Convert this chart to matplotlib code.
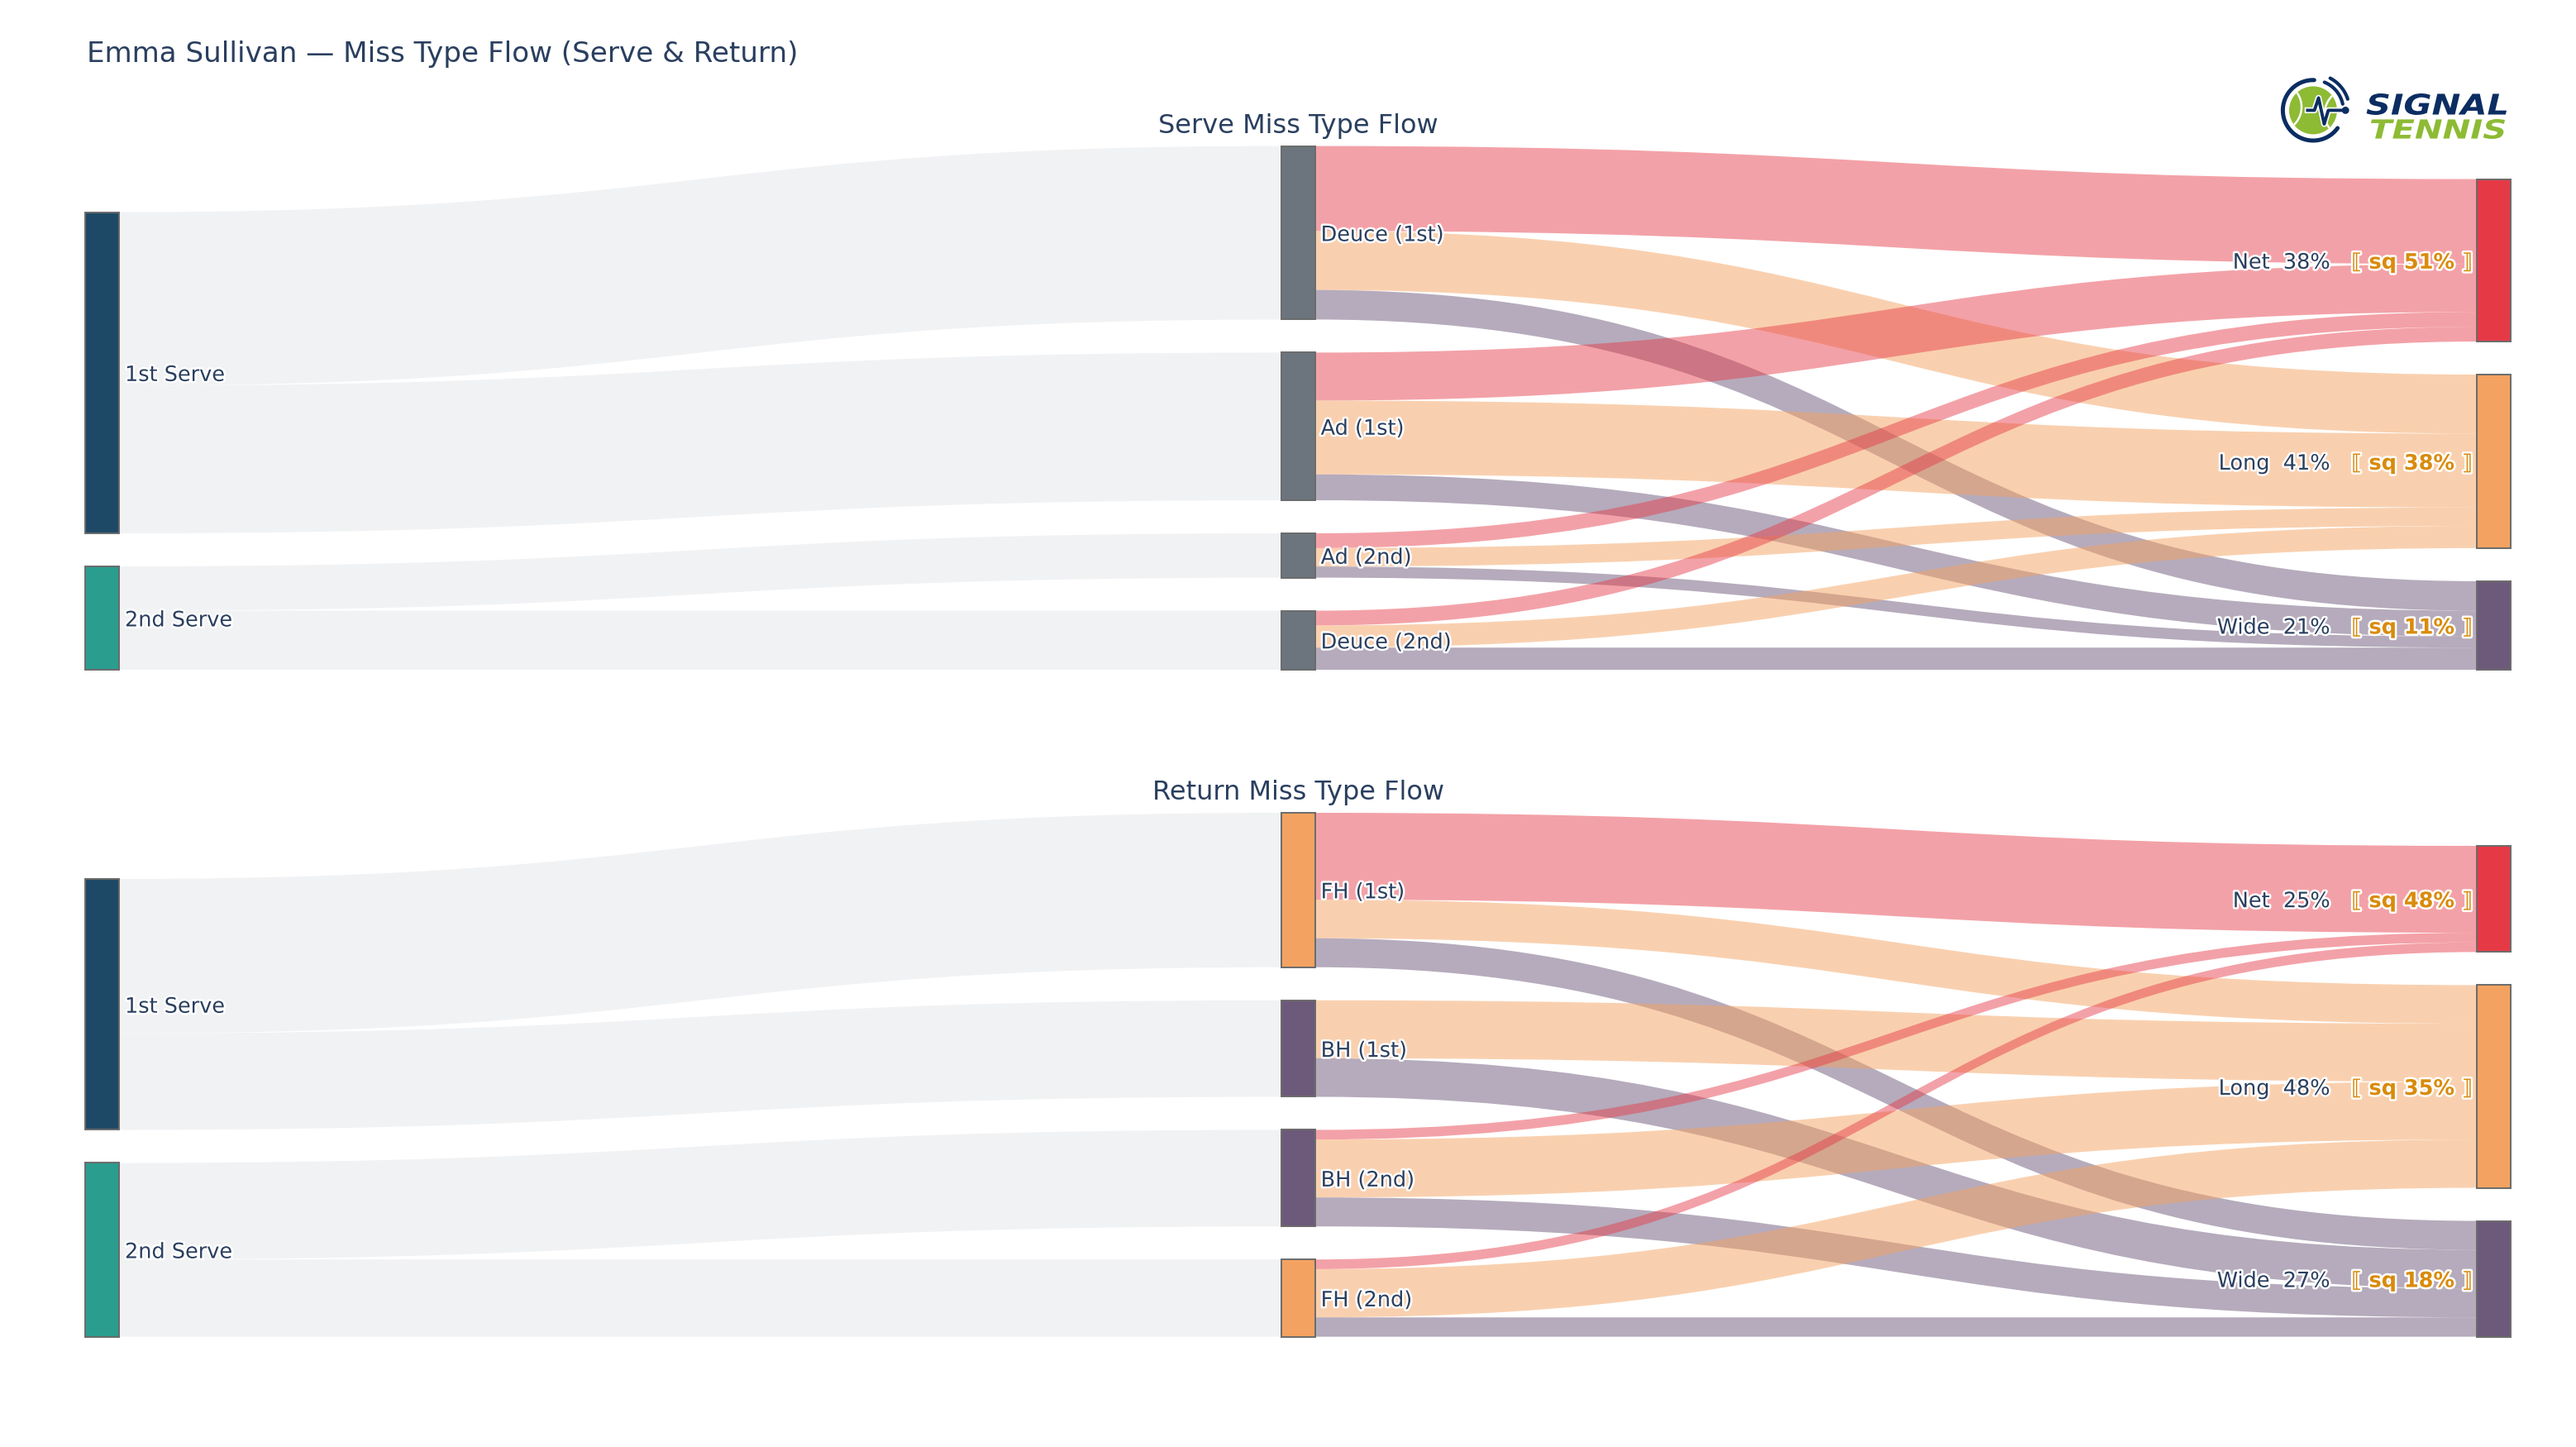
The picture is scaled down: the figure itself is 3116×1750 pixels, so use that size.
import numpy as np
import matplotlib
matplotlib.use("Agg")
from matplotlib import pyplot as plt
import matplotlib.patheffects as pe
from matplotlib.patches import PathPatch, Rectangle, Circle
from matplotlib.path import Path
from matplotlib.textpath import TextPath
from matplotlib.font_manager import FontProperties

# ---- data ----
player = "Emma Sullivan"
miss_types = ["Net", "Long", "Wide"]

serve_sources = ["1st Serve", "2nd Serve"]
serve_sides = ["Deuce (1st)", "Ad (1st)", "Ad (2nd)", "Deuce (2nd)"]
serve_parent = [0, 0, 1, 1]
serve_net = [23, 13, 4, 4]
serve_long = [16, 20, 5, 6]
serve_wide = [8, 7, 3, 6]
serve_squad_pct = [51, 38, 11]

return_sources = ["1st Serve", "2nd Serve"]
return_wings = ["FH (1st)", "BH (1st)", "BH (2nd)", "FH (2nd)"]
return_parent = [0, 0, 1, 1]
return_net = [9, 0, 1, 1]
return_long = [4, 6, 6, 5]
return_wide = [3, 4, 3, 2]
return_squad_pct = [48, 35, 18]

# ---- style ----
TXT = "#2a3f5f"
SQ_ORANGE = "#d98b0b"
SRC_COLORS = ["#1e4966", "#2a9d8f"]
SERVE_MID = "#6c757d"
FH_COL, BH_COL = "#f4a261", "#6d597a"
TYPE_COLORS = ["#e63946", "#f4a261", "#6d597a"]
TYPE_LINK = [(230/255, 57/255, 70/255, 0.47),
             (244/255, 162/255, 97/255, 0.5),
             (109/255, 89/255, 122/255, 0.5)]
GREY_LINK = "#f1f2f4"

W, H = 1558, 875
X_COLS = [51.7, 775.0, 1498.0]
NODE_W = 20.3
PAD = 20.0
halo = [pe.withStroke(linewidth=1.8, foreground="white")]


def ribbon(ax, x0, ya, x1, yb, h, color):
    xm = (x0 + x1) / 2
    verts = [(x0, ya), (xm, ya), (xm, yb), (x1, yb),
             (x1, yb + h), (xm, yb + h), (xm, ya + h), (x0, ya + h), (x0, ya)]
    codes = [Path.MOVETO] + [Path.CURVE4] * 3 + [Path.LINETO] + \
            [Path.CURVE4] * 3 + [Path.CLOSEPOLY]
    ax.add_patch(PathPatch(Path(verts, codes), facecolor=color,
                           edgecolor="none", zorder=1))


def node(ax, x, top, h, color):
    ax.add_patch(Rectangle((x, top), NODE_W, h, facecolor=color,
                           edgecolor="#6b6b6b", lw=0.7, zorder=3))


def sankey(ax, y0, y1, src_names, mid_names, parent, flows, mid_colors,
           squad, title, renderer):
    mid_vals = [sum(f[i] for f in flows) for i in range(len(mid_names))]
    src_vals = [sum(v for v, p in zip(mid_vals, parent) if p == s)
                for s in range(len(src_names))]
    typ_vals = [sum(f) for f in flows]
    total = sum(mid_vals)
    n_max = max(len(src_vals), len(mid_vals), len(typ_vals))
    k = (y1 - y0 - PAD * (n_max - 1)) / total

    def stack(vals):
        hs = [v * k for v in vals]
        t = y1 - sum(hs) - PAD * (len(hs) - 1)
        tops = []
        for hh in hs:
            tops.append(t)
            t += hh + PAD
        return tops, hs

    s_top, s_h = stack(src_vals)
    m_top, m_h = stack(mid_vals)
    t_top, t_h = stack(typ_vals)

    # links source -> middle
    s_off = list(s_top)
    for i, p in enumerate(parent):
        ribbon(ax, X_COLS[0] + NODE_W, s_off[p], X_COLS[1], m_top[i], m_h[i], GREY_LINK)
        s_off[p] += m_h[i]
    # links middle -> miss type
    t_off = list(t_top)
    for i in range(len(mid_names)):
        off = m_top[i]
        for t in range(len(flows)):
            h = flows[t][i] * k
            if h > 0:
                ribbon(ax, X_COLS[1] + NODE_W, off, X_COLS[2], t_off[t], h, TYPE_LINK[t])
            off += h
            t_off[t] += h

    for i, name in enumerate(src_names):
        node(ax, X_COLS[0], s_top[i], s_h[i], SRC_COLORS[i])
        ax.text(X_COLS[0] + NODE_W + 3.5, s_top[i] + s_h[i] / 2, name, fontsize=9.2,
                color=TXT, va="center_baseline", ha="left", path_effects=halo, zorder=5)
    for i, name in enumerate(mid_names):
        node(ax, X_COLS[1], m_top[i], m_h[i], mid_colors[i])
        ax.text(X_COLS[1] + NODE_W + 3.5, m_top[i] + m_h[i] / 2, name, fontsize=9.2,
                color=TXT, va="center_baseline", ha="left", path_effects=halo, zorder=5)
    for t, name in enumerate(miss_types):
        node(ax, X_COLS[2], t_top[t], t_h[t], TYPE_COLORS[t])
        yc = t_top[t] + t_h[t] / 2
        sq = ax.text(X_COLS[2] - 3, yc, "\u27e6 sq %d%% \u27e7" % squad[t], fontsize=9.2,
                     fontweight="bold", color=SQ_ORANGE, ha="right",
                     va="center_baseline", path_effects=halo, zorder=5)
        bb = sq.get_window_extent(renderer=renderer)
        x_left = ax.transData.inverted().transform((bb.x0, bb.y0))[0]
        pct = round(100 * typ_vals[t] / total)
        ax.text(x_left - 13, yc, "%s  %d%%" % (name, pct), fontsize=9.2, color=TXT,
                ha="right", va="center_baseline", path_effects=halo, zorder=5)

    ax.text(X_COLS[1] + NODE_W / 2, y0 - 12, title, fontsize=11.5, color=TXT,
            ha="center", va="center", zorder=5)


def logo_word(ax, word, x0, x1, ytop, ybot, color):
    tp = TextPath((0, 0), word, size=10,
                  prop=FontProperties(family="DejaVu Sans", weight="bold", style="italic"))
    v = tp.vertices.copy()
    mn, mx = v.min(axis=0), v.max(axis=0)
    v[:, 0] = x0 + (v[:, 0] - mn[0]) / (mx[0] - mn[0]) * (x1 - x0)
    v[:, 1] = ybot - (v[:, 1] - mn[1]) / (mx[1] - mn[1]) * (ybot - ytop)
    ax.add_patch(PathPatch(Path(v, tp.codes), facecolor=color, edgecolor="none", zorder=6))


def draw_logo(ax, cx, cy):
    navy, green = "#0b2d62", "#8dbb34"
    disk = Circle((cx, cy), 14.5, facecolor=green, edgecolor="none", zorder=6)
    ax.add_patch(disk)
    for sx in (-1, 1):
        a = np.linspace(-70, 70, 60) if sx < 0 else np.linspace(110, 250, 60)
        ccx, ccy = cx + sx * 22, cy + sx * 2
        ln, = ax.plot(ccx + 15 * np.cos(np.radians(a)), ccy - 15 * np.sin(np.radians(a)),
                      color="white", lw=0.9, zorder=6.5)
        ln.set_clip_path(disk)

    def arc(r, a0, a1, lw):
        a = np.radians(np.linspace(a0, a1, 80))
        ax.plot(cx + r * np.cos(a), cy - r * np.sin(a), color=navy, lw=lw,
                solid_capstyle="round", zorder=7)
    arc(18.3, 88, 324, 1.8)
    arc(18.3, 12, 68, 1.5)
    arc(22.0, 18, 62, 1.5)
    hx = cx + np.array([-3.3, 0.8, 3.3, 6.7, 9.2, 19.2])
    hy = cy + np.array([0, 0, -7.5, 8.3, 0, 0])
    ax.plot(hx, hy, color=navy, lw=1.4, zorder=8,
            path_effects=[pe.withStroke(linewidth=2.6, foreground="white")])
    ax.add_patch(Circle((cx + 19.6, cy), 1.5, color=navy, zorder=8))
    logo_word(ax, "SIGNAL", 1431, 1516, 56.5, 69.5, navy)
    logo_word(ax, "TENNIS", 1433, 1515, 72, 84, green)


fig = plt.figure(figsize=(W / 100, H / 100), dpi=200)
ax = fig.add_axes([0, 0, 1, 1])
ax.set_xlim(0, W)
ax.set_ylim(H, 0)
ax.axis("off")
renderer = fig.canvas.get_renderer()

sankey(ax, 88.3, 405.0, serve_sources, serve_sides, serve_parent,
       [serve_net, serve_long, serve_wide], [SERVE_MID] * 4,
       serve_squad_pct, "Serve Miss Type Flow", renderer)
sankey(ax, 491.5, 808.3, return_sources, return_wings, return_parent,
       [return_net, return_long, return_wide], [FH_COL, BH_COL, BH_COL, FH_COL],
       return_squad_pct, "Return Miss Type Flow", renderer)

ax.text(52.6, 32.8, "%s \u2014 Miss Type Flow (Serve & Return)" % player, fontsize=12.3,
        color=TXT, ha="left", va="center")
draw_logo(ax, 1399, 66.7)

fig.savefig("out.png", dpi=200, facecolor="white")
